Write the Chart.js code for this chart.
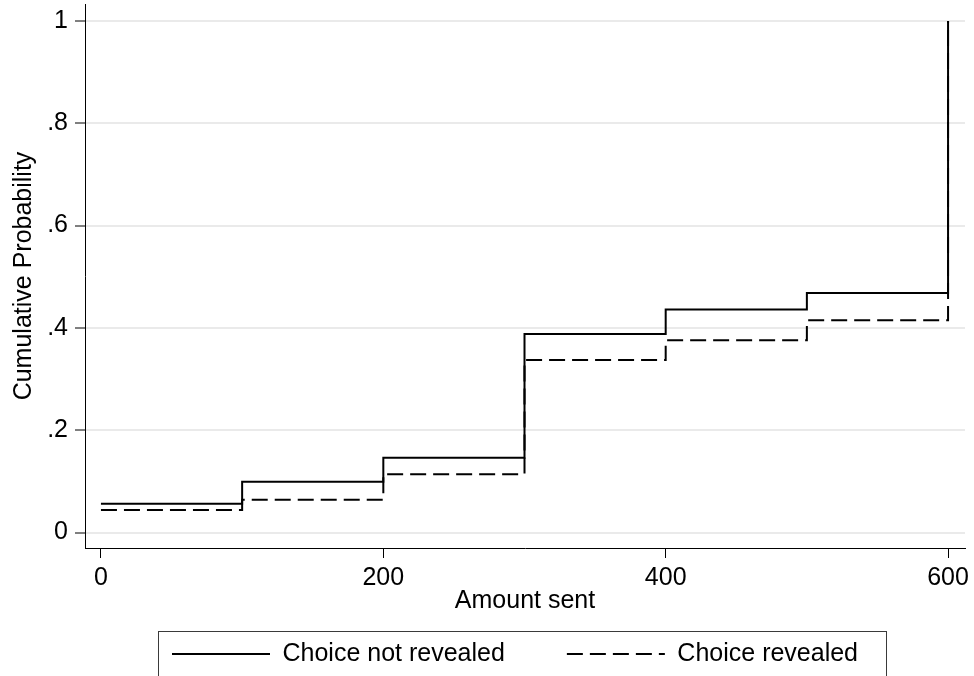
<!DOCTYPE html>
<html>
<head>
<meta charset="utf-8">
<title>Cumulative distribution of amount sent</title>
<script src="https://cdn.jsdelivr.net/npm/chart.js@4.4.1/dist/chart.umd.min.js"></script>
<style>
  html, body { margin: 0; padding: 0; background: #fff; overflow: hidden; }
  #wrap { width: 974px; height: 676px; }
</style>
</head>
<body>
<div id="wrap"><canvas id="cdf" width="974" height="676"></canvas></div>
<script>
// Data (step CDFs of amount sent)
const amounts = [0, 100, 200, 300, 400, 500, 600];
const notRevealed = [0.056, 0.099, 0.146, 0.388, 0.436, 0.468, 1.0];
const revealed = [0.044, 0.064, 0.114, 0.337, 0.376, 0.415, 1.0];
const seriesLabels = ['Choice not revealed', 'Choice revealed'];
const xTicks = [0, 200, 400, 600];
const yTicks = [0, 0.2, 0.4, 0.6, 0.8, 1];

const FONT = "'Liberation Sans', Arial, Helvetica, sans-serif";
const DASH = [16, 7];

function toPoints(ys) {
  return amounts.map((a, i) => ({ x: a, y: ys[i] }));
}

function yLabel(v) {
  if (v === 0) return '0';
  if (v === 1) return '1';
  return String(Math.round(v * 10) / 10).replace(/^0/, '');
}

// Stata-like legend: moved under the axis title and framed
const legendFrame = {
  id: 'legendFrame',
  afterUpdate(chart) {
    const lg = chart.legend;
    const hb = lg.legendHitBoxes;
    if (!hb || !hb.length) return;
    const dx = 172 - hb[0].left;
    const dy = 641.5 - hb[0].top;
    lg.left += dx; lg.right += dx;
    lg.top += dy; lg.bottom += dy;
    hb.forEach(b => { b.left += dx; b.top += dy; });
  },
  afterDraw(chart) {
    const hb = chart.legend.legendHitBoxes;
    if (!hb || hb.length < 2) return;
    const ctx = chart.ctx;
    const last = hb[hb.length - 1];
    const left = Math.round(hb[0].left - 14) + 0.5;
    const top = Math.round(hb[0].top - 11) + 0.5;
    const right = Math.round(last.left + last.width + 28) + 0.5;
    ctx.save();
    ctx.strokeStyle = '#3a3a3a';
    ctx.lineWidth = 1;
    ctx.setLineDash([]);
    ctx.strokeRect(left, top, right - left, 80);
    ctx.restore();
  }
};

new Chart(document.getElementById('cdf').getContext('2d'), {
  type: 'line',
  data: {
    datasets: [
      {
        label: seriesLabels[0],
        data: toPoints(notRevealed),
        stepped: 'before',
        borderColor: '#000',
        borderWidth: 2,
        pointRadius: 0,
        fill: false
      },
      {
        label: seriesLabels[1],
        data: toPoints(revealed),
        stepped: 'before',
        borderColor: '#000',
        borderWidth: 2,
        borderDash: DASH,
        pointRadius: 0,
        fill: false
      }
    ]
  },
  options: {
    responsive: false,
    animation: false,
    devicePixelRatio: 1,
    layout: { padding: { top: 4, right: 9, bottom: -37, left: 0 } },
    plugins: {
      tooltip: { enabled: false },
      legend: {
        position: 'bottom',
        labels: {
          usePointStyle: true,
          pointStyleWidth: 98,
          padding: 62,
          color: '#000',
          font: { family: FONT, size: 25 },
          generateLabels(chart) {
            return chart.data.datasets.map((ds, i) => ({
              text: ds.label,
              fillStyle: '#000',
              strokeStyle: '#000',
              lineWidth: 2,
              lineDash: ds.borderDash || [],
              pointStyle: 'line',
              hidden: false,
              datasetIndex: i
            }));
          }
        }
      }
    },
    scales: {
      x: {
        type: 'linear',
        min: -11.3,
        max: 612,
        afterBuildTicks(scale) { scale.ticks = xTicks.map(v => ({ value: v })); },
        afterFit(scale) {
          scale.height = 68;
          scale.paddingLeft = 0;
          scale.paddingRight = 0;
        },
        ticks: {
          color: '#000',
          padding: 5,
          maxRotation: 0,
          autoSkip: false,
          font: { family: FONT, size: 25 }
        },
        grid: {
          drawOnChartArea: false,
          drawTicks: true,
          tickLength: 10,
          tickColor: '#000',
          tickWidth: 1
        },
        border: { display: true, color: '#000', width: 1 },
        title: {
          display: true,
          text: 'Amount sent',
          color: '#000',
          font: { family: FONT, size: 25 },
          padding: { top: 0, bottom: 0 }
        }
      },
      y: {
        type: 'linear',
        min: -0.0303,
        max: 1.0332,
        afterBuildTicks(scale) { scale.ticks = yTicks.map(v => ({ value: v })); },
        afterFit(scale) {
          scale.width = 85;
          scale.paddingTop = 0;
          scale.paddingBottom = 0;
        },
        ticks: {
          color: '#000',
          padding: 7,
          autoSkip: false,
          font: { family: FONT, size: 25 },
          callback: v => yLabel(v)
        },
        grid: {
          color: '#eaeaea',
          lineWidth: 2,
          drawTicks: true,
          tickLength: 10,
          tickColor: '#000',
          tickWidth: 1
        },
        border: { display: true, color: '#000', width: 1 },
        title: {
          display: true,
          text: 'Cumulative Probability',
          color: '#000',
          font: { family: FONT, size: 25 },
          padding: { top: 9, bottom: 0 }
        }
      }
    }
  },
  plugins: [legendFrame]
});
</script>
</body>
</html>
